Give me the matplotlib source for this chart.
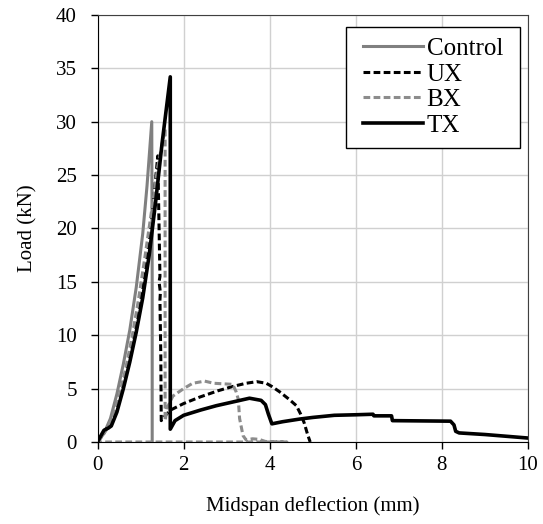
import numpy as np
import matplotlib.pyplot as plt
from matplotlib.patches import Rectangle

plt.rcParams['font.family'] = ['Liberation Serif', 'DejaVu Serif']
plt.rcParams['font.size'] = 15

# load-deflection curves (mm, kN)
ctrl_x = [0, 0.15, 0.3, 0.45, 0.6, 0.75, 0.9, 1.05, 1.15, 1.26, 1.27, 1.27]
ctrl_y = [0, 0.8, 2.2, 4.5, 7.3, 10.5, 14.5, 19.5, 24.0, 30.0, 15.0, 0.0]

ux_x = [0, 0.1, 0.2, 0.35, 0.5, 0.65, 0.8, 0.95, 1.1, 1.25, 1.4, 1.43, 1.45, 1.43, 1.46,
        1.45, 1.47, 1.48, 1.6, 1.7, 2.0, 2.37, 2.8, 3.14, 3.45, 3.7, 3.92, 4.05, 4.23,
        4.45, 4.62, 4.72, 4.8, 4.88, 4.94]
ux_y = [0, 0.6, 1.2, 2.0, 3.8, 6.2, 9.0, 12.0, 15.5, 20.5, 26.8, 20.0, 15.5, 15.0, 14.0,
        13.3, 8.0, 2.0, 2.6, 3.0, 3.6, 4.2, 4.8, 5.2, 5.5, 5.65, 5.5, 5.2, 4.7,
        4.0, 3.4, 2.6, 1.8, 0.7, 0.0]

bx_x = [0, 0.1, 0.2, 0.35, 0.5, 0.65, 0.8, 0.95, 1.1, 1.25, 1.4, 1.57, 1.57, 1.62, 1.75,
        2.0, 2.21, 2.49, 2.7, 3.14, 3.22, 3.27, 3.30, 3.38, 3.45, 3.6, 3.75, 3.9, 4.4, 0]
bx_y = [0, 0.5, 1.1, 2.3, 4.3, 6.8, 9.8, 13.3, 17.3, 21.5, 25.8, 29.3, 2.0, 3.2, 4.3,
        5.0, 5.5, 5.7, 5.5, 5.4, 4.7, 4.0, 2.2, 0.6, 0.2, 0.3, 0.25, 0.05, 0.0, 0.0]

tx_x = [0, 0.08, 0.15, 0.25, 0.32, 0.45, 0.6, 0.75, 0.9, 1.05, 1.2, 1.35, 1.5, 1.69, 1.69,
        1.8, 2.0, 2.4, 2.76, 3.2, 3.53, 3.8, 3.9, 3.97, 4.05, 4.3, 4.7, 5.0, 5.5, 6.0,
        6.4, 6.42, 6.83, 6.85, 8.2, 8.28, 8.32, 8.4, 9.0, 10.0]
tx_y = [0, 0.6, 1.1, 1.3, 1.5, 2.8, 5.0, 7.5, 10.3, 13.5, 17.5, 22.5, 28.0, 34.2, 1.2,
        2.0, 2.5, 3.0, 3.4, 3.8, 4.1, 3.9, 3.5, 2.6, 1.7, 1.9, 2.15, 2.3, 2.5, 2.55,
        2.6, 2.45, 2.45, 2.0, 1.95, 1.6, 1.0, 0.85, 0.7, 0.37]

fig = plt.figure(figsize=(5.43, 5.24), dpi=100)
ax = fig.add_axes([0.1796, 0.1565, 0.7928, 0.815])

ax.plot(ctrl_x, ctrl_y, color='#808080', lw=2.2, label='Control')
ax.plot(ux_x, ux_y, color='black', lw=2.2, ls=(0, (2.2, 1.1)), label='UX')
ax.plot(bx_x, bx_y, color='#8c8c8c', lw=2.2, ls=(0, (2.2, 1.1)), label='BX')
ax.plot(tx_x, tx_y, color='black', lw=2.6, label='TX')

ax.set_xlim(0, 10)
ax.set_ylim(0, 40)
ax.set_xticks(np.arange(0, 11, 2))
ax.set_yticks(np.arange(0, 41, 5))
ax.grid(True, color='#d0d0d0', lw=1)
ax.set_axisbelow(True)
ax.tick_params(axis='y', direction='out', length=5, width=1, pad=10)
ax.tick_params(axis='x', direction='out', length=5, width=1, pad=5)
for s in ['top', 'right']:
    ax.spines[s].set_color('#404040')
    ax.spines[s].set_linewidth(0.8)
ax.set_xlabel('Midspan deflection (mm)', labelpad=15)
ax.set_ylabel('Load (kN)', labelpad=13)

# legend without frame, then an Excel-like box with wider side padding
leg = ax.legend(loc='upper right', bbox_to_anchor=(0.942, 0.947), borderaxespad=0,
                handlelength=2.4, handletextpad=0.15, labelspacing=0.12, borderpad=0,
                frameon=False, fontsize=18)
leg.set_zorder(6)
fig.canvas.draw()
bb = leg.get_window_extent().transformed(fig.transFigure.inverted())
padx, pady = 17 / 543, 11 / 524
box = Rectangle((bb.x0 - padx, bb.y0 - pady), bb.width + 2 * padx, bb.height + 2 * pady,
                transform=fig.transFigure, facecolor='white', edgecolor='black', lw=1,
                zorder=5, clip_on=False)
ax.add_artist(box)

fig.savefig('out.png', dpi=100)
